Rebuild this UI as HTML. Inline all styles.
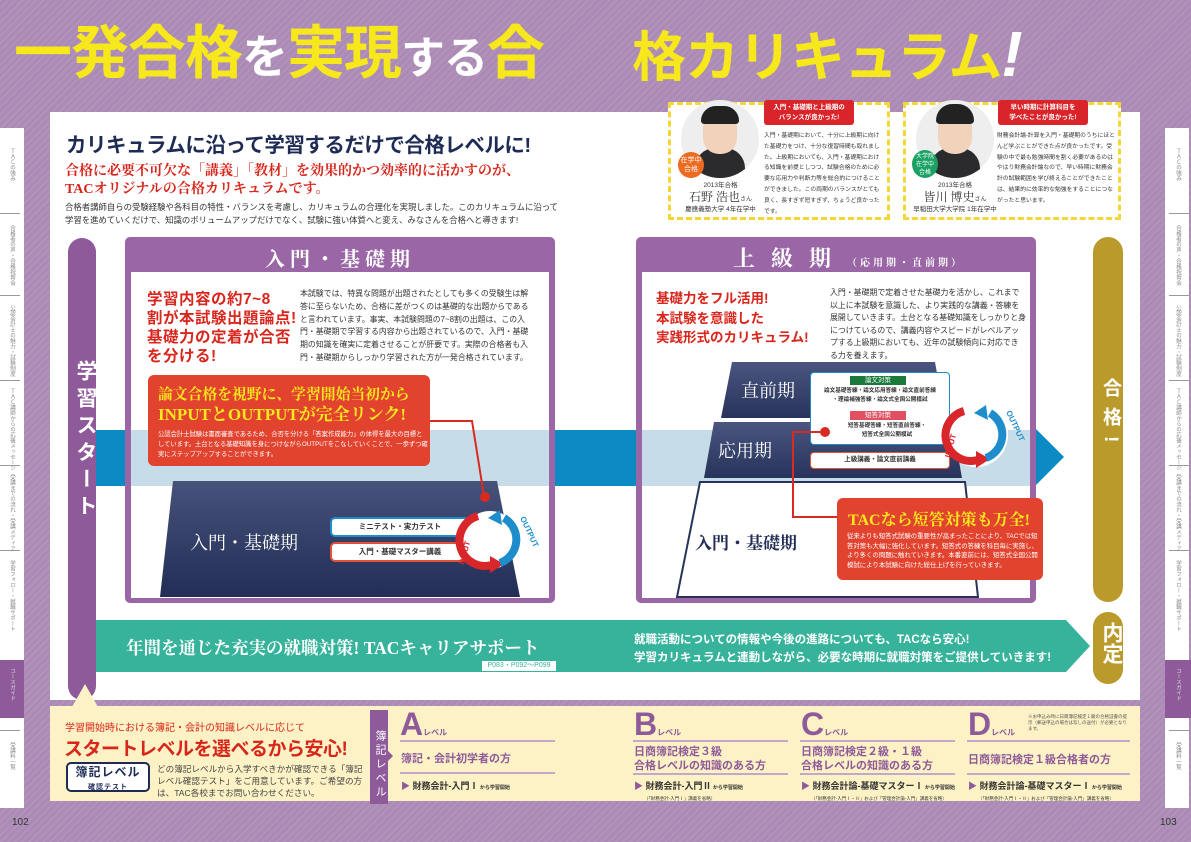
<!DOCTYPE html>
<html><head><meta charset="utf-8"><style>
*{margin:0;padding:0;box-sizing:border-box}
body{width:1191px;height:842px;position:relative;overflow:hidden;font-family:"Liberation Sans","Noto Sans CJK JP",sans-serif;background:#ab8bb6;background-image:repeating-linear-gradient(135deg,rgba(255,255,255,.06) 0 2px,rgba(0,0,0,0) 2px 5px)}
.a{position:absolute}
.serif{font-family:"Liberation Serif","Noto Serif CJK SC",serif}
.tab{position:absolute;width:24px;background:#fff}
.tl{position:absolute;writing-mode:vertical-rl;font-size:5.5px;color:#888;width:24px;text-align:left;line-height:24px}
.sep{position:absolute;width:20px;height:1px;background:#999}
.pill{position:absolute;border-radius:15px}
.vt{writing-mode:vertical-rl;color:#fff;font-weight:bold}
</style></head><body>

<!-- Title -->
<div class="a" style="left:14px;top:24px;font-size:58px;line-height:60px;font-weight:bold;color:#f6e81a;letter-spacing:-1px;white-space:nowrap">一発合格<span style="color:#fff;font-size:46px">を</span>実現<span style="color:#fff;font-size:44px">する</span>合</div>
<div class="a" style="left:632px;top:26px;font-size:54px;line-height:56px;font-weight:bold;color:#f6e81a;letter-spacing:-1px;white-space:nowrap">格カリキュラム<span style="color:#fff;font-style:italic;font-size:64px">!</span></div>

<!-- side tabs -->
<div class="tab" style="left:0;top:128px;height:680px"></div>
<div class="a" style="left:0;top:660px;width:24px;height:58px;background:#8e5a9a"></div>
<div class="tab" style="left:1165px;top:128px;height:680px"></div>
<div class="a" style="left:1165px;top:660px;width:26px;height:58px;background:#8e5a9a"></div>
<div class="sep" style="left:0;top:213px"></div><div class="sep" style="left:0;top:295px"></div><div class="sep" style="left:0;top:380px"></div><div class="sep" style="left:0;top:465px"></div><div class="sep" style="left:0;top:550px"></div><div class="sep" style="left:0;top:730px"></div>
<div class="sep" style="left:1169px;top:213px"></div><div class="sep" style="left:1169px;top:295px"></div><div class="sep" style="left:1169px;top:380px"></div><div class="sep" style="left:1169px;top:465px"></div><div class="sep" style="left:1169px;top:550px"></div><div class="sep" style="left:1169px;top:730px"></div>
<div class="tl" style="left:0;top:148px">ＴＡＣの強み</div>
<div class="tl" style="left:0;top:225px">合格者の声・合格祝賀会</div>
<div class="tl" style="left:0;top:305px">公認会計士の魅力・試験制度</div>
<div class="tl" style="left:0;top:388px">ＴＡＣ講師からの応援メッセージ</div>
<div class="tl" style="left:0;top:474px">受講までの流れ・受講メディア</div>
<div class="tl" style="left:0;top:560px">学習フォロー・就職サポート</div>
<div class="tl" style="left:0;top:668px;color:#ddd">コースガイド</div>
<div class="tl" style="left:0;top:742px">受講料一覧</div>
<div class="tl" style="left:1166px;top:148px">ＴＡＣの強み</div>
<div class="tl" style="left:1166px;top:225px">合格者の声・合格祝賀会</div>
<div class="tl" style="left:1166px;top:305px">公認会計士の魅力・試験制度</div>
<div class="tl" style="left:1166px;top:388px">ＴＡＣ講師からの応援メッセージ</div>
<div class="tl" style="left:1166px;top:474px">受講までの流れ・受講メディア</div>
<div class="tl" style="left:1166px;top:560px">学習フォロー・就職サポート</div>
<div class="tl" style="left:1166px;top:668px;color:#ddd">コースガイド</div>
<div class="tl" style="left:1166px;top:742px">受講料一覧</div>
<div class="a" style="left:12px;top:817px;font-size:10px;color:#333">102</div>
<div class="a" style="left:1160px;top:817px;font-size:10px;color:#333">103</div>

<!-- main white panel -->
<div class="a" style="left:50px;top:112px;width:1090px;height:588px;background:#fff"></div>

<!-- testimonials -->
<div class="a" style="left:668px;top:102px;width:222px;height:118px;border:3px dashed #f5d63a;background:#fff"></div>
<div class="a" style="left:903px;top:102px;width:218px;height:118px;border:3px dashed #f5d63a;background:#fff"></div>
<div class="a" style="left:681px;top:100px;width:78px;height:78px;border-radius:50%;background:#eee;overflow:hidden"><div class="a" style="left:14px;top:48px;width:50px;height:40px;background:#2b2b2e;border-radius:20px 20px 0 0"></div><div class="a" style="left:22px;top:12px;width:34px;height:42px;background:#f1d2bb;border-radius:16px"></div><div class="a" style="left:20px;top:6px;width:38px;height:18px;background:#222;border-radius:18px 18px 4px 4px"></div></div>
<div class="a" style="left:916px;top:100px;width:78px;height:78px;border-radius:50%;background:#eee;overflow:hidden"><div class="a" style="left:14px;top:48px;width:50px;height:40px;background:#2b2b2e;border-radius:20px 20px 0 0"></div><div class="a" style="left:22px;top:12px;width:34px;height:42px;background:#f1d2bb;border-radius:16px"></div><div class="a" style="left:20px;top:4px;width:38px;height:20px;background:#222;border-radius:18px 18px 4px 4px"></div></div>
<div class="a" style="left:678px;top:152px;width:26px;height:26px;border-radius:50%;background:#ec6b21;color:#fff;font-size:7px;text-align:center;line-height:9px;padding-top:4px">在学中<br>合格</div>
<div class="a" style="left:912px;top:150px;width:26px;height:28px;border-radius:50%;background:#1aa163;color:#fff;font-size:6px;text-align:center;line-height:8px;padding-top:3px">大学院<br>在学中<br>合格</div>
<div class="a" style="left:673px;top:181px;width:95px;text-align:center;font-size:6.5px;color:#333;line-height:10px;white-space:nowrap">2013年合格<br><span style="font-size:12px;line-height:13px" class="serif">石野 浩也</span><span style="font-size:6px">さん</span><br>慶應義塾大学 4年在学中</div>
<div class="a" style="left:905px;top:181px;width:100px;text-align:center;font-size:6.5px;color:#333;line-height:10px;white-space:nowrap">2013年合格<br><span style="font-size:12px;line-height:13px" class="serif">皆川 博史</span><span style="font-size:6px">さん</span><br>早稲田大学大学院 1年在学中</div>
<div class="a" style="left:764px;top:100px;width:90px;height:25px;background:#d9242a;border-radius:3px;color:#fff;font-size:6.5px;text-align:center;line-height:10px;padding-top:3px;font-weight:bold">入門・基礎期と上級期の<br>バランスが良かった!</div>
<div class="a" style="left:998px;top:100px;width:90px;height:25px;background:#d9242a;border-radius:3px;color:#fff;font-size:6.5px;text-align:center;line-height:10px;padding-top:3px;font-weight:bold">早い時期に計算科目を<br>学べたことが良かった!</div>
<div class="a" style="left:764px;top:131px;width:118px;font-size:5.8px;line-height:10.8px;color:#333">入門・基礎期において、十分に上級期に向けた基礎力をつけ、十分な復習時間も取れました。上級期においても、入門・基礎期における知識を前提としつつ、試験合格のために必要な応用力や判断力等を総合的につけることができました。この両期のバランスがとても良く、長すぎず短すぎず、ちょうど良かったです。</div>
<div class="a" style="left:997px;top:131px;width:118px;font-size:5.8px;line-height:10.8px;color:#333">財務会計論-計算を入門・基礎期のうちにほとんど学ぶことができた点が良かったです。受験の中で最も勉強時間を割く必要があるのはやはり財務会計論なので、早い時期に財務会計の試験範囲を学び終えることができたことは、結果的に効率的な勉強をすることにつながったと思います。</div>

<!-- heading texts -->
<div class="a" style="left:66px;top:128px;font-size:20.5px;font-weight:bold;color:#1d2b55;letter-spacing:-0.5px;white-space:nowrap">カリキュラムに沿って学習するだけで合格レベルに!</div>
<div class="a serif" style="left:65px;top:163px;font-size:14px;color:#d9261c;line-height:18px;white-space:nowrap;font-weight:bold">合格に必要不可欠な「講義」「教材」を効果的かつ効率的に活かすのが、<br>TACオリジナルの合格カリキュラムです。</div>
<div class="a" style="left:65px;top:201px;font-size:8.4px;color:#333;line-height:13px;white-space:nowrap">合格者講師自らの受験経験や各科目の特性・バランスを考慮し、カリキュラムの合理化を実現しました。このカリキュラムに沿って<br>学習を進めていくだけで、知識のボリュームアップだけでなく、試験に強い体質へと変え、みなさんを合格へと導きます!</div>

<!-- blue band -->
<div class="a" style="left:96px;top:430px;width:30px;height:56px;background:#0b8ac4"></div>
<div class="a" style="left:555px;top:430px;width:82px;height:56px;background:#0b8ac4"></div>
<svg class="a" style="left:1034px;top:424px" width="32" height="66"><polygon points="0,3 30,33 0,63" fill="#0b8ac4"/></svg>

<!-- green band -->
<svg class="a" style="left:96px;top:618px" width="1000" height="56"><polygon points="0,2 970,2 994,28 970,54 0,54" fill="#37b39c"/></svg>
<div class="a serif" style="left:126px;top:635px;font-size:17.5px;color:#fff;white-space:nowrap;font-weight:bold">年間を通じた充実の就職対策!  TACキャリアサポート</div>
<div class="a" style="left:482px;top:661px;width:74px;height:10px;background:#fff;color:#37b39c;font-size:7px;line-height:10px;text-align:center">P083・P092～P099</div>
<div class="a" style="left:634px;top:631px;font-size:11.5px;color:#fff;font-weight:bold;line-height:18px;white-space:nowrap">就職活動についての情報や今後の進路についても、TACなら安心!<br>学習カリキュラムと連動しながら、必要な時期に就職対策をご提供していきます!</div>

<!-- start pill -->
<div class="pill" style="left:68px;top:238px;width:28px;height:462px;background:#8e5a9a"></div>
<div class="a vt" style="left:70px;top:360px;font-size:21px;letter-spacing:6px">学習スタート</div>

<!-- gold pills -->
<div class="pill" style="left:1093px;top:237px;width:30px;height:365px;background:#b99a2b"></div>
<div class="a vt" style="left:1097px;top:378px;font-size:19px;letter-spacing:10px">合格!</div>
<div class="pill" style="left:1093px;top:612px;width:30px;height:72px;background:#b99a2b"></div>
<div class="a vt" style="left:1096px;top:622px;font-size:21px">内定</div>

<!-- left box -->
<div class="a" style="left:125px;top:237px;width:430px;height:366px;background:#9a66a6;border-radius:5px"></div>
<div class="a" style="left:131px;top:272px;width:418px;height:326px;background:#fff"></div>
<div class="a" style="left:131px;top:430px;width:418px;height:56px;background:#c6dce8"></div>
<div class="a serif" style="left:125px;top:243px;width:430px;text-align:center;color:#fff;font-size:20px;letter-spacing:5px;font-weight:bold">入門・基礎期</div>
<div class="a" style="left:147px;top:290px;font-size:15.5px;font-weight:bold;color:#d9261c;line-height:19px;white-space:nowrap;letter-spacing:0.5px">学習内容の約7~8<br>割が本試験出題論点!<br>基礎力の定着が合否<br>を分ける!</div>
<div class="a" style="left:300px;top:288px;width:236px;font-size:7.9px;line-height:12.8px;color:#333">本試験では、特異な問題が出題されたとしても多くの受験生は解答に至らないため、合格に差がつくのは基礎的な出題からであると言われています。事実、本試験問題の7~8割の出題は、この入門・基礎期で学習する内容から出題されているので、入門・基礎期の知識を確実に定着させることが肝要です。実際の合格者も入門・基礎期からしっかり学習された方が一発合格されています。</div>
<svg class="a" style="left:150px;top:478px" width="390" height="120"><defs><linearGradient id="g1" x1="0" y1="0" x2="0" y2="1"><stop offset="0" stop-color="#46527a"/><stop offset="1" stop-color="#222e55"/></linearGradient></defs><polygon points="23,3 347,3 370,119 10,119" fill="url(#g1)"/></svg>
<div class="a serif" style="left:190px;top:529px;font-size:18px;color:#fff;white-space:nowrap">入門・基礎期</div>
<div class="a" style="left:330px;top:517px;width:140px;height:20px;background:#fff;border:2px solid #1f8dcb;border-radius:5px;font-size:7.5px;font-weight:bold;text-align:center;line-height:16px;color:#333">ミニテスト・実力テスト</div>
<div class="a" style="left:330px;top:542px;width:140px;height:20px;background:#fff;border:2px solid #e0533a;border-radius:5px;font-size:7.5px;font-weight:bold;text-align:center;line-height:16px;color:#333">入門・基礎マスター講義</div>
<div class="a" style="left:148px;top:375px;width:282px;height:91px;background:#e2432f;border-radius:6px"></div>
<div class="a serif" style="left:158px;top:385px;font-size:14.8px;color:#f8e81c;line-height:20px;white-space:nowrap;font-weight:bold">論文合格を視野に、学習開始当初から<br><span style="font-size:17px">INPUTとOUTPUTが完全リンク!</span></div>
<div class="a" style="left:158px;top:430px;width:270px;font-size:6.3px;color:#fff;line-height:10px">公認会計士試験は書面審査であるため、合否を分ける「答案作成能力」の体得を最大の目標としています。土台となる基礎知識を身につけながらOUTPUTをこなしていくことで、一歩ずつ確実にステップアップすることができます。</div>
<svg class="a" style="left:420px;top:410px" width="130" height="170"><polyline points="10,11 52,11 64,86" fill="none" stroke="#d92a22" stroke-width="2"/><circle cx="65" cy="87" r="5" fill="#d92a22"/>
<circle cx="70" cy="130" r="29" fill="#fff"/><path d="M58,106 A25,25 0 0 0 72,155" fill="none" stroke="#d9262a" stroke-width="8"/><polygon points="70,146 84,154 70,163" fill="#d9262a"/><path d="M84,108 A25,25 0 0 1 80,153" fill="none" stroke="#1f8dcb" stroke-width="8"/><polygon points="80,100 68,108 82,115" fill="#1f8dcb"/>
<text x="100" y="108" font-size="8" font-weight="bold" fill="#1f8dcb" transform="rotate(65 100 108)">OUTPUT</text><text x="44" y="155" font-size="8" font-weight="bold" fill="#d9262a" transform="rotate(-75 44 155)">INPUT</text></svg>

<!-- right box -->
<div class="a" style="left:636px;top:237px;width:400px;height:366px;background:#9a66a6;border-radius:5px"></div>
<div class="a" style="left:642px;top:272px;width:388px;height:326px;background:#fff"></div>
<div class="a" style="left:642px;top:430px;width:388px;height:56px;background:#c6dce8"></div>
<div class="a serif" style="left:733px;top:242px;color:#fff;font-size:22px;letter-spacing:16px;white-space:nowrap;font-weight:bold">上級期<span style="font-size:10px;letter-spacing:3px">（応用期・直前期）</span></div>
<div class="a" style="left:656px;top:289px;font-size:13.5px;font-weight:bold;color:#d9261c;line-height:19.5px;white-space:nowrap">基礎力をフル活用!<br>本試験を意識した<br>実践形式のカリキュラム!</div>
<div class="a" style="left:830px;top:287px;width:196px;font-size:7.9px;line-height:12.5px;color:#333">入門・基礎期で定着させた基礎力を活かし、これまで以上に本試験を意識した、より実践的な講義・答練を展開していきます。土台となる基礎知識をしっかりと身につけているので、講義内容やスピードがレベルアップする上級期においても、近年の試験傾向に対応できる力を養えます。</div>
<svg class="a" style="left:660px;top:360px" width="380" height="240"><defs><linearGradient id="g2" x1="0" y1="0" x2="0" y2="1"><stop offset="0" stop-color="#4a5680"/><stop offset="1" stop-color="#27335a"/></linearGradient></defs>
<polygon points="72,2 275,2 285,58 61,58" fill="url(#g2)"/><polygon points="54,62 292,62 302,118 44,118" fill="url(#g2)"/><polygon points="40,122 305,122 318,237 17,237" fill="#fff" stroke="#27335a" stroke-width="2"/></svg>
<div class="a serif" style="left:741px;top:377px;font-size:18px;color:#fff">直前期</div>
<div class="a serif" style="left:718px;top:437px;font-size:18px;color:#fff">応用期</div>
<div class="a serif" style="left:695px;top:529px;font-size:17px;color:#222e55;font-weight:bold">入門・基礎期</div>
<div class="a" style="left:810px;top:372px;width:140px;height:73px;background:#fff;border:1.5px solid #1f8dcb;border-radius:4px"></div>
<div class="a" style="left:850px;top:376px;width:56px;height:9px;background:#1a7a3a;color:#fff;font-size:6.5px;text-align:center;line-height:9px">論文対策</div>
<div class="a" style="left:810px;top:387px;width:140px;font-size:5.6px;font-weight:bold;text-align:center;line-height:9px;color:#333">論文基礎答練・論文応用答練・論文直前答練<br>・理論補強答練・論文式全国公開模試</div>
<div class="a" style="left:850px;top:411px;width:56px;height:9px;background:#e05060;color:#fff;font-size:6.5px;text-align:center;line-height:9px">短答対策</div>
<div class="a" style="left:822px;top:422px;width:130px;font-size:5.6px;font-weight:bold;text-align:center;line-height:9px;color:#333">短答基礎答練・短答直前答練・<br>短答式全国公開模試</div>
<div class="a" style="left:810px;top:452px;width:140px;height:17px;background:#fff;border:1.5px solid #e0533a;border-radius:4px;font-size:6.5px;font-weight:bold;text-align:center;line-height:14px;color:#333">上級講義・論文直前講義</div>
<svg class="a" style="left:780px;top:390px" width="300" height="140"><polyline points="45,42 13,42 13,127 58,127" fill="none" stroke="#d92a22" stroke-width="2"/><circle cx="45" cy="42" r="5" fill="#d92a22"/>
<circle cx="196" cy="45" r="32" fill="#fff"/><path d="M184,21 A25,25 0 0 0 198,70" fill="none" stroke="#d9262a" stroke-width="8"/><polygon points="196,61 210,69 196,78" fill="#d9262a"/><path d="M210,23 A25,25 0 0 1 206,68" fill="none" stroke="#1f8dcb" stroke-width="8"/><polygon points="206,15 194,23 208,30" fill="#1f8dcb"/>
<text x="226" y="22" font-size="8" font-weight="bold" fill="#1f8dcb" transform="rotate(65 226 22)">OUTPUT</text><text x="170" y="68" font-size="8" font-weight="bold" fill="#d9262a" transform="rotate(-75 170 68)">INPUT</text></svg>
<div class="a" style="left:837px;top:498px;width:206px;height:82px;background:#e2432f;border-radius:6px"></div>
<div class="a serif" style="left:848px;top:507px;font-size:16px;color:#f8e81c;white-space:nowrap;font-weight:bold">TACなら短答対策も万全!</div>
<div class="a" style="left:847px;top:532px;width:192px;font-size:6.4px;color:#fff;line-height:9.5px">従来よりも短答式試験の重要性が高まったことにより、TACでは短答対策も大幅に強化しています。短答式の答練を科目毎に実施し、より多くの問題に触れていきます。本番直前には、短答式全国公開模試により本試験に向けた総仕上げを行っていきます。</div>

<!-- bottom cream panel -->
<svg class="a" style="left:70px;top:684px" width="30" height="24"><polygon points="15,0 28,23 2,23" fill="#fdf2c5"/></svg>
<div class="a" style="left:50px;top:706px;width:1090px;height:95px;background:#fdf2c5"></div>
<div class="a" style="left:65px;top:719px;font-size:10px;color:#d9261c;white-space:nowrap">学習開始時における簿記・会計の知識レベルに応じて</div>
<div class="a" style="left:64px;top:734px;font-size:19px;font-weight:bold;color:#d9261c;white-space:nowrap;letter-spacing:-0.5px">スタートレベルを選べるから安心!</div>
<div class="a" style="left:66px;top:762px;width:84px;height:30px;border:2px solid #1d2b55;border-radius:5px;background:#fff;text-align:center;color:#1d2b55;font-weight:bold;font-size:12px;line-height:13px;padding-top:2px;letter-spacing:1px">簿記レベル<br><span style="font-size:7px">確認テスト</span></div>
<div class="a" style="left:157px;top:763px;width:208px;font-size:8.6px;line-height:12px;color:#444">どの簿記レベルから入学すべきかが確認できる「簿記レベル確認テスト」をご用意しています。ご希望の方は、TAC各校までお問い合わせください。</div>
<div class="a" style="left:370px;top:710px;width:18px;height:94px;background:#8e5a9a"></div>
<svg class="a" style="left:387px;top:750px" width="8" height="12"><polygon points="0,0 6,6 0,12" fill="#8e5a9a"/></svg>
<div class="a vt" style="left:372px;top:730px;font-size:11px;font-weight:normal;letter-spacing:3px">簿記レベル</div>

<div class="a" style="left:400px;top:706px;font-size:32px;font-weight:bold;color:#8e5a9a">A<span style="font-size:8px">レベル</span></div>
<div class="a" style="left:400px;top:740px;width:155px;height:2px;background:#c4a7cd"></div>
<div class="a" style="left:401px;top:750px;font-size:11px;font-weight:bold;color:#8e5a9a">簿記・会計初学者の方</div>
<div class="a" style="left:400px;top:772px;width:155px;height:2px;background:#c4a7cd"></div>
<div class="a" style="left:401px;top:779px;font-size:9px;font-weight:bold;color:#333;white-space:nowrap"><span style="color:#8e5a9a">▶</span> 財務会計-入門Ⅰ<span style="font-size:5px"> から学習開始</span></div>

<div class="a" style="left:634px;top:706px;font-size:32px;font-weight:bold;color:#8e5a9a">B<span style="font-size:8px">レベル</span></div>
<div class="a" style="left:633px;top:740px;width:155px;height:2px;background:#c4a7cd"></div>
<div class="a" style="left:634px;top:745px;font-size:11px;font-weight:bold;color:#8e5a9a;line-height:14px">日商簿記検定３級<br>合格レベルの知識のある方</div>
<div class="a" style="left:633px;top:773px;width:155px;height:2px;background:#c4a7cd"></div>
<div class="a" style="left:634px;top:779px;font-size:9px;font-weight:bold;color:#333;white-space:nowrap"><span style="color:#8e5a9a">▶</span> 財務会計-入門Ⅱ<span style="font-size:5px"> から学習開始</span><br><span style="font-size:4.5px;font-weight:normal;margin-left:10px">（「財務会計-入門Ⅰ」講義を省略）</span></div>

<div class="a" style="left:801px;top:706px;font-size:32px;font-weight:bold;color:#8e5a9a">C<span style="font-size:8px">レベル</span></div>
<div class="a" style="left:800px;top:740px;width:155px;height:2px;background:#c4a7cd"></div>
<div class="a" style="left:801px;top:745px;font-size:11px;font-weight:bold;color:#8e5a9a;line-height:14px">日商簿記検定２級・１級<br>合格レベルの知識のある方</div>
<div class="a" style="left:800px;top:773px;width:155px;height:2px;background:#c4a7cd"></div>
<div class="a" style="left:801px;top:779px;font-size:9px;font-weight:bold;color:#333;white-space:nowrap"><span style="color:#8e5a9a">▶</span> 財務会計論-基礎マスターⅠ<span style="font-size:5px"> から学習開始</span><br><span style="font-size:4.5px;font-weight:normal;margin-left:10px">（「財務会計-入門Ⅰ・Ⅱ」および「管理会計論-入門」講義を省略）</span></div>

<div class="a" style="left:968px;top:706px;font-size:32px;font-weight:bold;color:#8e5a9a">D<span style="font-size:8px">レベル</span></div>
<div class="a" style="left:1028px;top:714px;width:100px;font-size:4.5px;color:#555;line-height:6px">※お申込み時に日商簿記検定１級の合格証書の提示（郵送申込の場合は写しの送付）が必要となります。</div>
<div class="a" style="left:967px;top:740px;width:163px;height:2px;background:#c4a7cd"></div>
<div class="a" style="left:968px;top:751px;font-size:11px;font-weight:bold;color:#8e5a9a">日商簿記検定１級合格者の方</div>
<div class="a" style="left:967px;top:773px;width:163px;height:2px;background:#c4a7cd"></div>
<div class="a" style="left:968px;top:779px;font-size:9px;font-weight:bold;color:#333;white-space:nowrap"><span style="color:#8e5a9a">▶</span> 財務会計論-基礎マスターⅠ<span style="font-size:5px"> から学習開始</span><br><span style="font-size:4.5px;font-weight:normal;margin-left:10px">（「財務会計-入門Ⅰ・Ⅱ」および「管理会計論-入門」講義を省略）</span></div>

</body></html>
